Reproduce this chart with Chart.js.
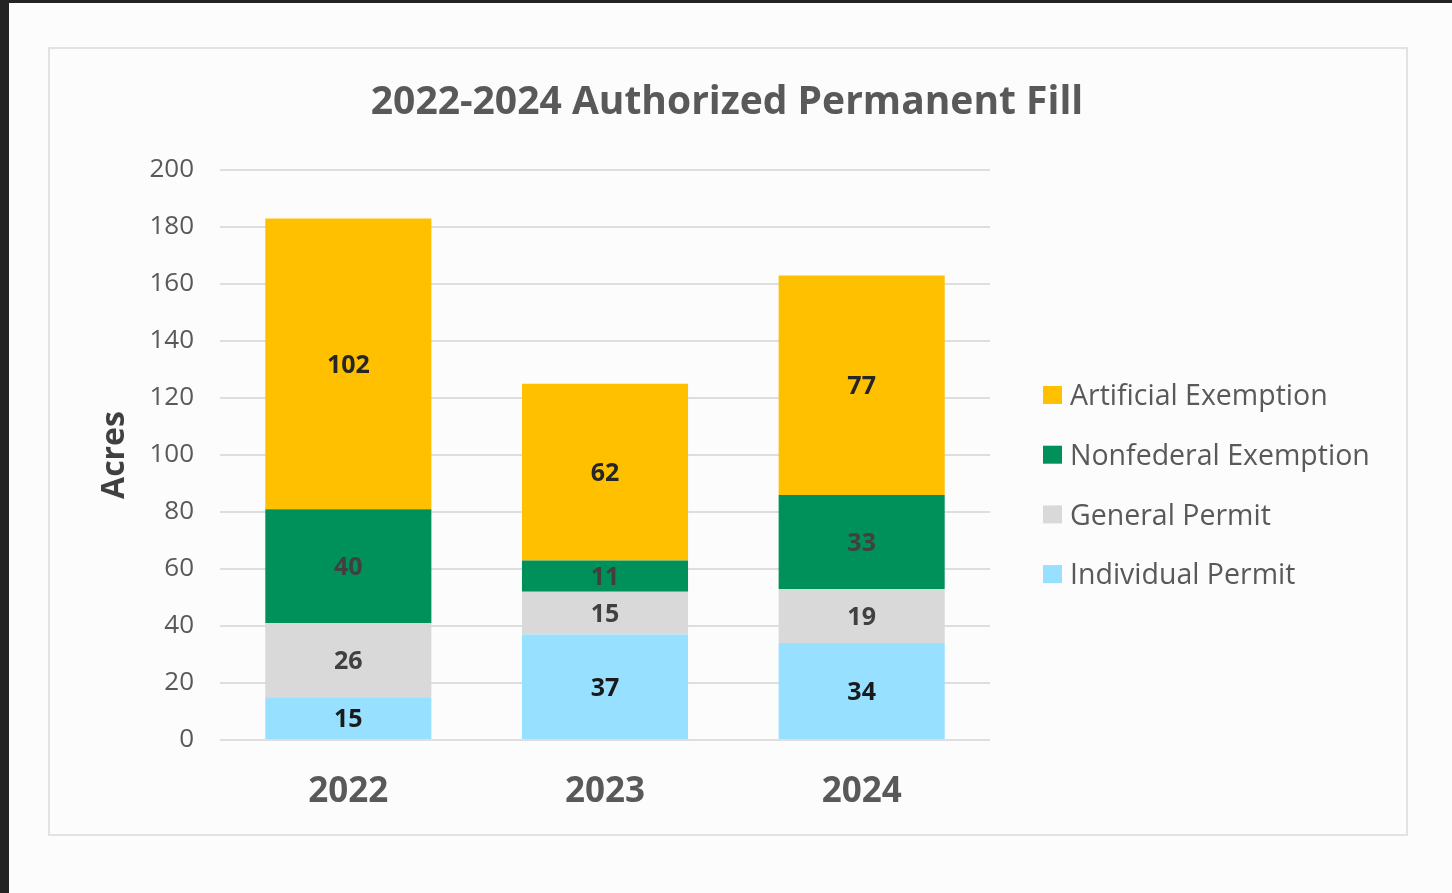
<!DOCTYPE html>
<html>
<head>
<meta charset="utf-8">
<script src="https://cdn.jsdelivr.net/npm/chart.js@4.4.1/dist/chart.umd.min.js"></script>
<style>
  html, body { margin: 0; padding: 0; }
  body { width: 1452px; height: 893px; background: #fcfcfc; position: relative; overflow: hidden; }
  #frame_left { position: absolute; left: 0; top: 0; width: 9px; height: 893px; background: #232323; }
  #frame_top { position: absolute; left: 0; top: 0; width: 1452px; height: 3px; background: #232323; }
  #box { position: absolute; left: 48px; top: 47px; width: 1356px; height: 785px; border: 2px solid #e2e2e2; }
  #wrap { position: absolute; left: 0; top: 0; width: 1452px; height: 893px; }
</style>
</head>
<body>
<div id="frame_left"></div>
<div id="frame_top"></div>
<div id="box"></div>
<div id="wrap"><canvas id="myChart" width="1452" height="893"></canvas></div>
<script>
let years = ['2022', '2023', '2024']
let individual_permit = [15, 37, 34]
let general_permit = [26, 15, 19]
let nonfederal_exemption = [40, 11, 33]
let artificial_exemption = [102, 62, 77]
let y_ticks = [0, 20, 40, 60, 80, 100, 120, 140, 160, 180, 200]
let chart_title = '2022-2024 Authorized Permanent Fill'

let font_name = "'Open Sans', 'Liberation Sans', sans-serif"

// title centred on the whole box, not on the plot area
let box_title = {
    id: 'box_title',
    afterDraw(chart) {
        let ctx = chart.ctx
        ctx.save()
        ctx.font = 'bold 39px ' + font_name
        ctx.fillStyle = '#595959'
        ctx.textAlign = 'center'
        ctx.textBaseline = 'middle'
        ctx.fillText(chart_title, 727, 103)
        ctx.restore()
    }
}

// labels inside each bar segment
let bar_labels = {
    id: 'bar_labels',
    afterDatasetsDraw(chart) {
        let ctx = chart.ctx
        ctx.save()
        ctx.font = 'bold 25px ' + font_name
        ctx.textAlign = 'center'
        ctx.textBaseline = 'middle'
        chart.data.datasets.forEach((ds, i) => {
            let meta = chart.getDatasetMeta(i)
            meta.data.forEach((bar, j) => {
                ctx.fillStyle = ds.labelColor
                ctx.fillText(ds.data[j], bar.x, (bar.y + bar.base) / 2 + 2)
            })
        })
        ctx.restore()
    }
}

// legend on the right, top item = last dataset
let side_legend = {
    id: 'side_legend',
    afterDraw(chart) {
        let ctx = chart.ctx
        ctx.save()
        ctx.font = '28.5px ' + font_name
        ctx.textBaseline = 'middle'
        let sets = chart.data.datasets.slice().reverse()
        for (let i = 0; i < sets.length; i++) {
            let y = 395 + i * 59.7
            ctx.fillStyle = sets[i].backgroundColor
            ctx.fillRect(1043, y - 9, 19, 18)
            ctx.fillStyle = '#595959'
            ctx.fillText(sets[i].label, 1070, y + 2)
        }
        ctx.restore()
    }
}

let ctx = document.getElementById('myChart').getContext('2d')

let myChart = new Chart(ctx, {
    type: 'bar',
    data: {
        labels: years,
        datasets: [
            { label: 'Individual Permit', data: individual_permit, backgroundColor: '#97e0ff', labelColor: '#1a1a1a' },
            { label: 'General Permit', data: general_permit, backgroundColor: '#d9d9d9', labelColor: '#404040' },
            { label: 'Nonfederal Exemption', data: nonfederal_exemption, backgroundColor: '#00905a', labelColor: '#404040' },
            { label: 'Artificial Exemption', data: artificial_exemption, backgroundColor: '#ffc000', labelColor: '#262626' }
        ]
    },
    options: {
        responsive: false,
        animation: false,
        layout: { padding: { left: 0, right: 462, top: 170, bottom: 0 } },
        datasets: {
            bar: { barPercentage: 0.647, categoryPercentage: 1 }
        },
        plugins: {
            legend: { display: false },
            tooltip: { enabled: false },
            title: { display: false }
        },
        scales: {
            x: {
                stacked: true,
                grid: { display: false },
                border: { display: false },
                ticks: {
                    color: '#595959',
                    font: { family: font_name, size: 35, weight: 'bold' },
                    padding: 23
                },
                afterFit(scale) { scale.height = 153 }
            },
            y: {
                stacked: true,
                min: 0,
                max: 200,
                afterBuildTicks(scale) { scale.ticks = y_ticks.map(v => ({ value: v })) },
                grid: { color: '#dedede', lineWidth: 2, drawTicks: false },
                border: { display: false },
                ticks: {
                    color: '#595959',
                    font: { family: font_name, size: 26 },
                    padding: 26
                },
                title: {
                    display: true,
                    text: 'Acres',
                    color: '#404040',
                    font: { family: font_name, size: 32, weight: 'bold' },
                    padding: { top: 96, bottom: 0 }
                },
                afterFit(scale) { scale.width = 220 }
            }
        }
    },
    plugins: [bar_labels, side_legend, box_title]
})
</script>
</body>
</html>
